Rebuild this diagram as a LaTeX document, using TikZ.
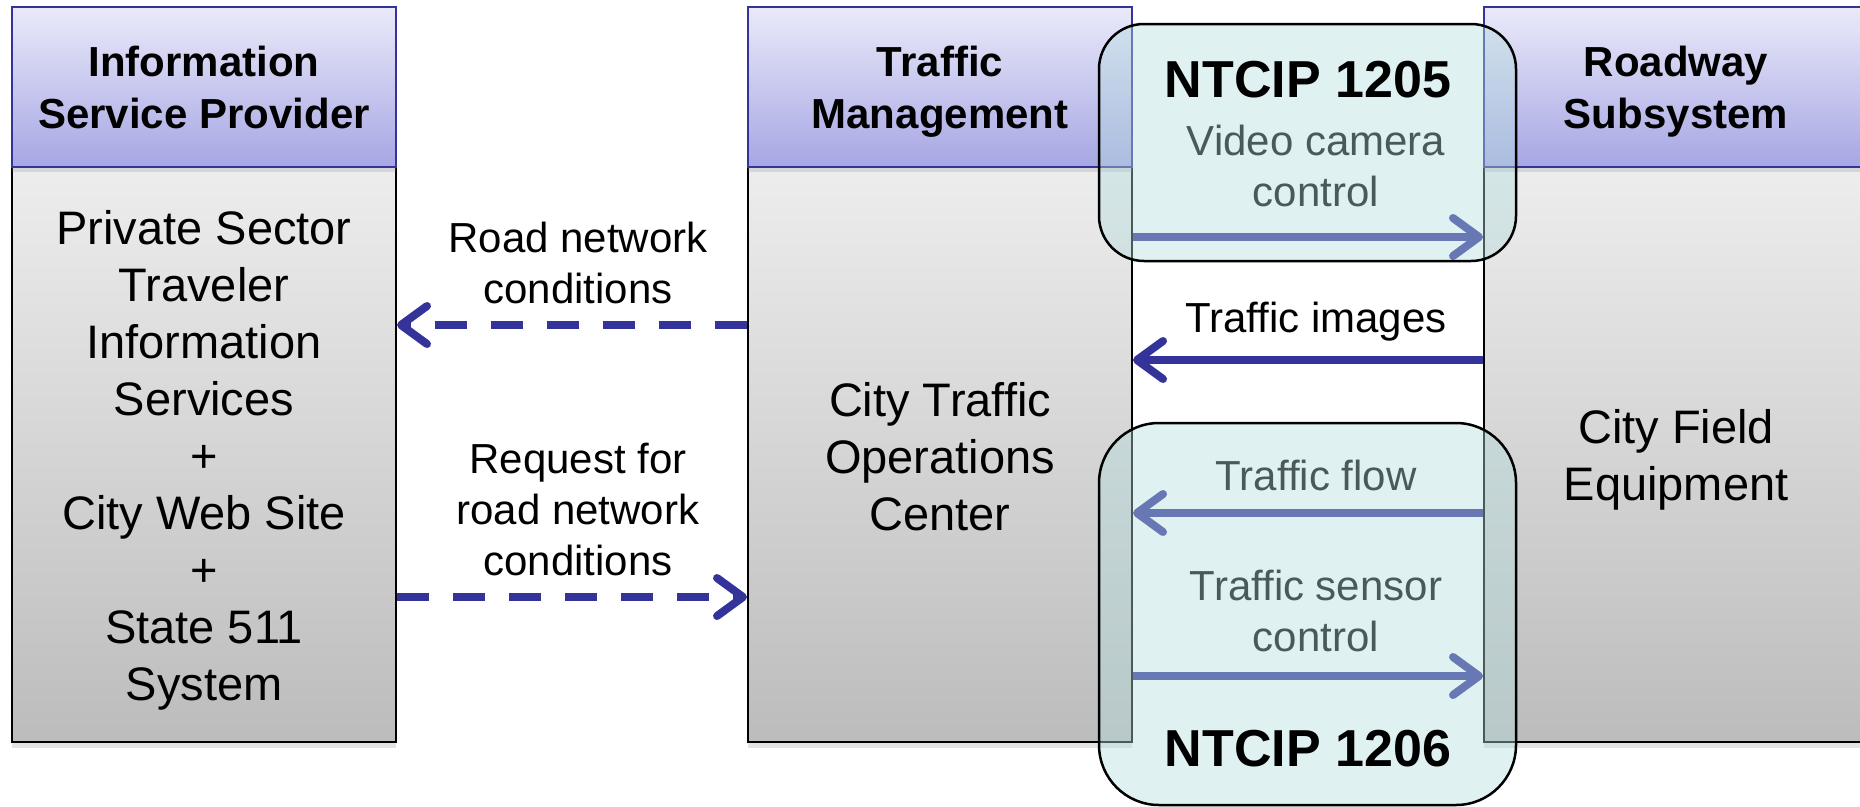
\documentclass[tikz,border=0pt]{standalone}
\usepackage{fontspec}
\setmainfont{Liberation Sans}
\usetikzlibrary{arrows.meta,shadows}
\definecolor{dblue}{RGB}{51,51,153}
\definecolor{hdrtop}{RGB}{234,234,250}
\definecolor{hdrbot}{RGB}{166,166,228}
\definecolor{bodytop}{RGB}{237,237,237}
\definecolor{bodybot}{RGB}{188,188,188}
\definecolor{ovl}{RGB}{180,220,220}
\begin{document}
\begin{tikzpicture}[x=1pt,y=-1pt,
  hdr/.style={draw=dblue, line width=2.5pt, top color=hdrtop, bottom color=hdrbot,
    minimum width=384pt, minimum height=160pt, inner sep=0pt, align=center, text depth=0pt,
    font=\fontsize{42}{52}\selectfont\bfseries,
    drop shadow={shadow xshift=0pt, shadow yshift=-5pt, opacity=0.22}},
  bodybox/.style={draw=black, line width=2pt, top color=bodytop, bottom color=bodybot,
    minimum width=384pt, minimum height=575pt, inner sep=0pt,
    drop shadow={shadow xshift=0pt, shadow yshift=-6pt, opacity=0.22}},
  bodytxt/.style={align=center, inner sep=0pt, text depth=0pt, font=\fontsize{47}{57}\selectfont},
  lbl/.style={align=center, inner sep=0pt, text depth=0pt, font=\fontsize{42}{51}\selectfont},
  ntcip/.style={draw=black, line width=2.5pt, fill=ovl, fill opacity=0.41, draw opacity=1,
    minimum width=417pt, inner sep=0pt},
  ttl/.style={inner sep=0pt, text depth=0pt, font=\fontsize{52}{60}\selectfont\bfseries},
  solidarr/.style={draw=dblue, line width=8pt, -{Straight Barb[length=26pt,width=38pt,round]}},
  dasharr/.style={solidarr, dash pattern=on 32pt off 24pt},
]
\useasboundingbox (0,0) rectangle (1860,806);
\clip (0,0) rectangle (1860,806);

% bodies
\node[bodybox] (ispb) at (204,454.5) {};
\node[bodybox] (tmb) at (940,454.5) {};
\node[bodybox] (rsb) at (1676,454.5) {};
% headers
\node[hdr] (isph) at (204,87) {Information\\Service Provider};
\node[hdr] (tmh) at (940,87) {Traffic\\Management};
\node[hdr] (rsh) at (1676,87) {Roadway\\Subsystem};
% body texts
\node[bodytxt] (ispt) at (204,455) {Private Sector\\Traveler\\Information\\Services\\+\\City Web Site\\+\\State 511\\System};
\node[bodytxt] (tmt) at (940,456) {City Traffic\\Operations\\Center};
\node[bodytxt] (rst) at (1676,455) {City Field\\Equipment};

% arrow heights
\coordinate (yr) at (0,325);
\coordinate (yq) at (0,597);
\coordinate (yv) at (0,237);
\coordinate (yi) at (0,360);
\coordinate (yf) at (0,513);
\coordinate (ys) at (0,676);

% connectors
\draw[dasharr] (tmb.west |- yr) -- (ispb.east |- yr);
\draw[dasharr] (ispb.east |- yq) -- (tmb.west |- yq);
\draw[solidarr] (tmb.east |- yv) -- (rsb.west |- yv);
\draw[solidarr] (rsb.west |- yi) -- (tmb.east |- yi);
\draw[solidarr] (rsb.west |- yf) -- (tmb.east |- yf);
\draw[solidarr] (tmb.east |- ys) -- (rsb.west |- ys);

% labels
\node[lbl] (lr) at (578,262.5) {Road network\\conditions};
\node[lbl] (lq) at (578,509.5) {Request for\\road network\\conditions};
\node[lbl] (lv) at (1316,166) {Video camera\\control};
\node[lbl] (li) at (1316,317) {Traffic images};
\node[lbl] (lf) at (1316,475) {Traffic flow};
\node[lbl] (ls) at (1316,611) {Traffic sensor\\control};

% NTCIP overlays
\node[ntcip, rounded corners=45pt, minimum height=237pt] (n5) at (1307.5,142.5) {};
\node[ntcip, rounded corners=60pt, minimum height=382pt] (n6) at (1307.5,614) {};
\node[ttl] (t5) at (1308,79) {NTCIP 1205};
\node[ttl] (t6) at (1308,748) {NTCIP 1206};
\end{tikzpicture}
\end{document}
